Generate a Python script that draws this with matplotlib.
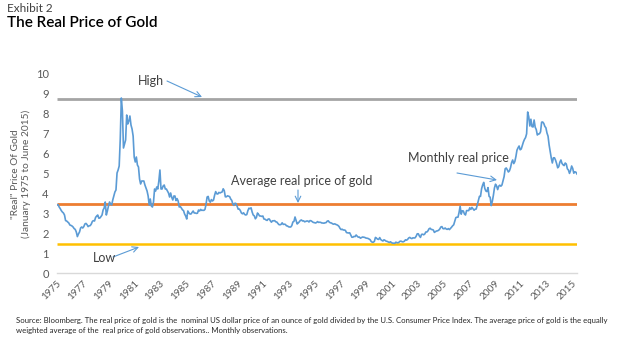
import matplotlib
matplotlib.use("Agg")
import matplotlib.pyplot as plt
import numpy as np

# Monthly real price of gold, Jan 1975 - Jun 2015
real_price = [
    3.40, 3.42, 3.30, 3.22, 3.12, 3.05, 3.00, 2.90, 2.62, 2.60, 2.55, 2.50,  # 1975
    2.40, 2.38, 2.35, 2.30, 2.22, 2.18, 2.05, 1.82, 1.95, 2.05, 2.25, 2.30,  # 1976
    2.25, 2.32, 2.45, 2.48, 2.42, 2.32, 2.36, 2.37, 2.45, 2.58, 2.62, 2.60,  # 1977
    2.78, 2.85, 2.90, 2.74, 2.75, 2.82, 2.90, 3.15, 3.25, 3.55, 2.90, 3.10,  # 1978
    3.35, 3.55, 3.45, 3.40, 3.65, 3.85, 4.05, 4.15, 5.00, 5.15, 5.35, 6.70,  # 1979
    8.75, 8.10, 6.25, 6.45, 6.65, 7.90, 7.45, 7.60, 7.85, 7.40, 7.20, 6.85,  # 1980
    5.80, 5.55, 5.80, 5.40, 5.30, 4.70, 4.45, 4.60, 4.60, 4.60, 4.40, 4.25,  # 1981
    4.10, 3.85, 3.40, 3.70, 3.35, 3.30, 3.55, 4.20, 4.10, 4.30, 4.20, 4.60,  # 1982
    5.15, 4.20, 4.20, 4.35, 4.40, 4.20, 4.20, 4.10, 4.00, 3.80, 4.00, 3.78,  # 1983
    3.65, 3.85, 3.85, 3.62, 3.72, 3.60, 3.30, 3.32, 3.25, 3.16, 3.12, 2.95,  # 1984
    2.85, 2.70, 3.10, 3.01, 2.95, 2.95, 3.03, 3.10, 3.00, 3.00, 2.98, 2.99,  # 1985
    3.15, 3.10, 3.18, 3.13, 3.14, 3.13, 3.18, 3.43, 3.80, 3.83, 3.60, 3.54,  # 1986
    3.67, 3.60, 3.65, 3.89, 4.07, 3.96, 3.95, 4.03, 4.00, 4.03, 4.05, 4.21,  # 1987
    4.12, 3.81, 3.81, 3.86, 3.84, 3.82, 3.70, 3.63, 3.45, 3.38, 3.49, 3.47,  # 1988
    3.34, 3.19, 3.20, 3.12, 3.00, 2.96, 3.01, 2.93, 2.90, 2.92, 3.11, 3.24,  # 1989
    3.22, 3.26, 3.05, 2.90, 2.86, 2.71, 2.78, 3.00, 2.93, 2.85, 2.85, 2.83,  # 1990
    2.85, 2.70, 2.69, 2.65, 2.63, 2.70, 2.70, 2.61, 2.54, 2.61, 2.61, 2.62,  # 1991
    2.56, 2.55, 2.48, 2.42, 2.41, 2.43, 2.51, 2.43, 2.44, 2.43, 2.36, 2.35,  # 1992
    2.31, 2.30, 2.30, 2.37, 2.55, 2.58, 2.80, 2.62, 2.45, 2.50, 2.56, 2.63,  # 1993
    2.65, 2.60, 2.61, 2.56, 2.58, 2.60, 2.60, 2.55, 2.62, 2.61, 2.57, 2.53,  # 1994
    2.52, 2.50, 2.52, 2.57, 2.53, 2.54, 2.53, 2.50, 2.50, 2.49, 2.51, 2.52,  # 1995
    2.59, 2.61, 2.54, 2.51, 2.50, 2.46, 2.44, 2.46, 2.43, 2.41, 2.38, 2.33,  # 1996
    2.23, 2.17, 2.19, 2.15, 2.15, 2.13, 2.02, 2.01, 2.00, 2.01, 1.90, 1.79,  # 1997
    1.79, 1.83, 1.82, 1.90, 1.84, 1.79, 1.80, 1.74, 1.77, 1.80, 1.79, 1.78,  # 1998
    1.75, 1.74, 1.73, 1.70, 1.67, 1.58, 1.54, 1.54, 1.58, 1.78, 1.74, 1.69,  # 1999
    1.68, 1.77, 1.67, 1.63, 1.60, 1.66, 1.63, 1.59, 1.58, 1.55, 1.53, 1.56,  # 2000
    1.52, 1.49, 1.49, 1.48, 1.54, 1.52, 1.51, 1.54, 1.59, 1.59, 1.56, 1.56,  # 2001
    1.59, 1.66, 1.64, 1.68, 1.75, 1.78, 1.74, 1.72, 1.76, 1.75, 1.76, 1.84,  # 2002
    1.96, 1.96, 1.85, 1.78, 1.93, 1.94, 1.91, 1.95, 2.05, 2.05, 2.11, 2.21,  # 2003
    2.24, 2.18, 2.17, 2.15, 2.03, 2.07, 2.10, 2.11, 2.14, 2.20, 2.30, 2.32,  # 2004
    2.22, 2.21, 2.25, 2.20, 2.18, 2.22, 2.17, 2.23, 2.29, 2.36, 2.41, 2.59,  # 2005
    2.77, 2.79, 2.79, 3.03, 3.34, 2.94, 3.11, 3.10, 2.95, 2.90, 3.12, 3.12,  # 2006
    3.12, 3.26, 3.18, 3.28, 3.21, 3.14, 3.19, 3.20, 3.41, 3.61, 3.83, 3.83,  # 2007
    4.21, 4.40, 4.53, 4.23, 4.10, 4.07, 4.27, 3.83, 3.79, 3.37, 3.58, 3.88,  # 2008
    4.25, 4.44, 4.35, 4.17, 4.34, 4.39, 4.34, 4.40, 4.62, 4.82, 5.21, 5.25,  # 2009
    5.16, 5.05, 5.11, 5.27, 5.52, 5.65, 5.47, 5.57, 5.82, 6.14, 6.26, 6.35,  # 2010
    6.16, 6.20, 6.37, 6.55, 6.68, 6.77, 6.96, 8.05, 7.81, 7.35, 7.69, 7.32,  # 2011
    7.30, 7.65, 7.29, 7.17, 6.90, 6.95, 6.96, 7.06, 7.54, 7.55, 7.48, 7.33,  # 2012
    7.26, 7.00, 6.84, 6.40, 6.07, 5.75, 5.50, 5.76, 5.76, 5.64, 5.47, 5.26,  # 2013
    5.32, 5.54, 5.65, 5.48, 5.41, 5.37, 5.50, 5.45, 5.21, 5.15, 4.98, 5.12,  # 2014
    5.35, 5.23, 4.99, 5.06, 5.04, 4.95,                                      # 2015
]
high_price = 8.7
average_price = 3.45
low_price = 1.45
year_labels = [str(y) for y in range(1975, 2016, 2)]

FONT = "Lato"
plt.rcParams["font.family"] = [FONT, "DejaVu Sans"]

fig = plt.figure(figsize=(6.29, 3.48), dpi=100)
ax = fig.add_axes([57 / 629, 1 - 273 / 348, 520 / 629, 200 / 348])

n = len(real_price)
x = np.arange(n)
ax.plot(x, [high_price] * n, color="#A5A5A5", lw=2.0, solid_capstyle="butt", zorder=2)
ax.plot(x, [average_price] * n, color="#ED7D31", lw=2.0, solid_capstyle="butt", zorder=2)
ax.plot(x, [low_price] * n, color="#FFC000", lw=1.8, solid_capstyle="butt", zorder=2)
ax.plot(x, real_price, color="#5B9BD5", lw=1.2, zorder=3)

ax.set_xlim(0, n - 1)
ax.set_ylim(0, 10)
ax.set_yticks(range(0, 11))
ax.tick_params(axis="y", length=0, pad=6, labelsize=8, labelcolor="#595959")
ax.set_xticks(range(0, n, 24))
ax.set_xticklabels(year_labels, rotation=45, ha="right", va="top",
                   rotation_mode="anchor", fontsize=7.2, color="#595959")
ax.tick_params(axis="x", length=0, pad=4)
for s in ["top", "right", "left"]:
    ax.spines[s].set_visible(False)
ax.spines["bottom"].set_color("#D9D9D9")
ax.spines["bottom"].set_linewidth(1.0)

# y label
fig.text(21 / 629, 1 - 174 / 348, '"Real" Price Of Gold\n(January 1975 to June 2015)',
         rotation=90, ha="center", va="center", fontsize=7.3, color="#595959",
         linespacing=1.2)

# titles
fig.text(7 / 629, 1 - 3 / 348, "Exhibit 2", ha="left", va="top", fontsize=8.5, color="#404040")
fig.text(7 / 629, 1 - 16 / 348, "The Real Price of Gold", ha="left", va="top", fontsize=11,
         color="#000000", fontweight="semibold")


def fp(px, py):
    return (px / 629, 1 - py / 348)


arrow = dict(arrowstyle="->", color="#5B9BD5", lw=0.8, shrinkA=0, shrinkB=0)

ax.annotate("", xy=fp(202, 97), xytext=fp(167, 81), arrowprops=arrow,
            xycoords="figure fraction", textcoords="figure fraction")
fig.text(*fp(138, 81), "High", ha="left", va="center", fontsize=9, color="#404040")

ax.annotate("", xy=fp(298, 203), xytext=fp(298, 190), arrowprops=arrow,
            xycoords="figure fraction", textcoords="figure fraction")
fig.text(*fp(231, 181), "Average real price of gold", ha="left", va="center", fontsize=9, color="#404040")

ax.annotate("", xy=fp(497, 180), xytext=fp(457, 173), arrowprops=arrow,
            xycoords="figure fraction", textcoords="figure fraction")
fig.text(*fp(408, 158), "Monthly real price", ha="left", va="center", fontsize=9, color="#404040")

ax.annotate("", xy=fp(139, 247), xytext=fp(113, 257), arrowprops=arrow,
            xycoords="figure fraction", textcoords="figure fraction")
fig.text(*fp(93, 258), "Low", ha="left", va="center", fontsize=9, color="#404040")

# footnote
fig.text(*fp(16, 320), "Source: Bloomberg. The real price of gold is the  nominal US dollar price of an ounce of gold "
         "divided by the U.S. Consumer Price Index. The average price of gold is the equally",
         ha="left", va="center", fontsize=5.6, color="#262626")
fig.text(*fp(16, 330), "weighted average of the  real price of gold observations.. Monthly observations.",
         ha="left", va="center", fontsize=5.6, color="#262626")

fig.savefig("out.png", dpi=100)
